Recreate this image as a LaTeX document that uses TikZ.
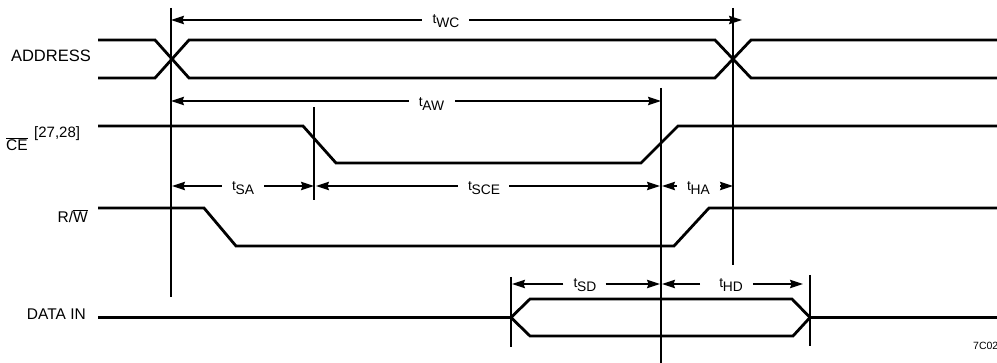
\documentclass[tikz,border=0pt]{standalone}
\usepackage{fontspec}
\setmainfont{Liberation Sans}
\usetikzlibrary{arrows.meta}
\newcommand{\tsub}[1]{t\kern-0.3pt\raisebox{-3.5pt}{#1}}
\tikzset{
  wave/.style={line width=2.8pt,line join=miter,line cap=butt},
  thin rule/.style={line width=1.25pt},
  dim/.style={line width=1.25pt,-{Stealth[length=13pt,width=8.5pt,inset=1.5pt]}},
  lab/.style={font=\fontsize{15.5}{17}\selectfont,inner sep=0pt,anchor=east},
  tlab/.style={font=\fontsize{13.8}{15}\selectfont,inner sep=0pt}
}
\begin{document}
\begin{tikzpicture}[x=1pt,y=-1pt]
\useasboundingbox (0,0) rectangle (997,363);
% waveforms
\draw[wave] (98,40) -- (155,40) -- (189,78) -- (715,78) -- (751,40) -- (997,40);
\draw[wave] (98,78) -- (155,78) -- (189,40) -- (715,40) -- (751,78) -- (997,78);
\draw[wave] (98,126) -- (303,126) -- (336,163) -- (641,163) -- (678,126) -- (997,126);
\draw[wave] (98,208) -- (204,208) -- (236,246) -- (674,246) -- (709,208) -- (997,208);
\draw[wave] (98,317.5) -- (511,317.5) -- (530,299) -- (792,299) -- (810,317.5) -- (997,317.5);
\draw[wave] (511,317.5) -- (530,336) -- (793,336) -- (810,317.5);
% rule ends
\coordinate (a1) at (171,8);   \coordinate (a2) at (171,297);
\coordinate (b1) at (733,8);   \coordinate (b2) at (733,265);
\coordinate (c1) at (314,107); \coordinate (c2) at (314,200);
\coordinate (d1) at (661,88);  \coordinate (d2) at (661,363);
\coordinate (e1) at (511,277); \coordinate (e2) at (511,347);
\coordinate (f1) at (810,275); \coordinate (f2) at (810,346);
\draw[thin rule] (a1) -- (a2);
\draw[thin rule] (b1) -- (b2);
\draw[thin rule] (c1) -- (c2);
\draw[thin rule] (d1) -- (d2);
\draw[thin rule] (e1) -- (e2);
\draw[thin rule] (f1) -- (f2);
% timing labels and arrows
\node[tlab] (twc) at (446,21) {\tsub{WC}};
\coordinate (twcL) at (171,20); \coordinate (twcR) at (742,20);
\draw[dim] (twc.west) ++(-11,-1) -- (twcL);
\draw[dim] (twc.east) ++(10,-1) -- (twcR);
\node[tlab] (taw) at (431.5,104) {\tsub{AW}};
\coordinate (tawL) at (171,101); \coordinate (tawR) at (661,101);
\draw[dim] (taw.west) ++(-10,-3) -- (tawL);
\draw[dim] (taw.east) ++(11,-3) -- (tawR);
\node[tlab] (tsa) at (243,188) {\tsub{SA}};
\coordinate (tsaL) at (172,186); \coordinate (tsaR) at (314,186);
\draw[dim] (tsa.west) ++(-10,-2) -- (tsaL);
\draw[dim] (tsa.east) ++(10,-2) -- (tsaR);
\node[tlab] (tsce) at (484,188) {\tsub{SCE}};
\coordinate (tsceL) at (316,186); \coordinate (tsceR) at (660,186);
\draw[dim] (tsce.west) ++(-10,-2) -- (tsceL);
\draw[dim] (tsce.east) ++(9,-2) -- (tsceR);
\node[tlab] (tha) at (698.5,188) {\tsub{HA}};
\coordinate (thaL) at (662,186); \coordinate (thaR) at (733,186);
\draw[dim] (tha.west) ++(-10,-2) -- (thaL);
\draw[dim] (tha.east) ++(10,-2) -- (thaR);
\node[tlab] (tsd) at (585,285) {\tsub{SD}};
\coordinate (tsdL) at (512,284); \coordinate (tsdR) at (660,284);
\draw[dim] (tsd.west) ++(-10,-1) -- (tsdL);
\draw[dim] (tsd.east) ++(9,-1) -- (tsdR);
\node[tlab] (thd) at (731,285) {\tsub{HD}};
\coordinate (thdL) at (662,284); \coordinate (thdR) at (803,284);
\draw[dim] (thd.west) ++(-19,-1) -- (thdL);
\draw[dim] (thd.east) ++(10,-1) -- (thdR);
% signal labels
\node[lab,font=\fontsize{16.5}{18}\selectfont] (addr) at (91,56) {ADDRESS};
\node[inner sep=0pt,anchor=west,font=\fontsize{15.5}{17}\selectfont] (cebar) at (6,144.5) {$\overline{\mbox{CE}}$};
\node[inner sep=0pt,anchor=west,font=\fontsize{15}{17}\selectfont] (cesup) at (34,134) {[27,28]};
\node[lab] (rw) at (88,216) {R/$\overline{\mbox{W}}$};
\node[lab] (din) at (86,314) {DATA IN};
\node[inner sep=0pt,anchor=west,font=\fontsize{10.5}{12}\selectfont] (code) at (973,346) {7C02};
\end{tikzpicture}
\end{document}
